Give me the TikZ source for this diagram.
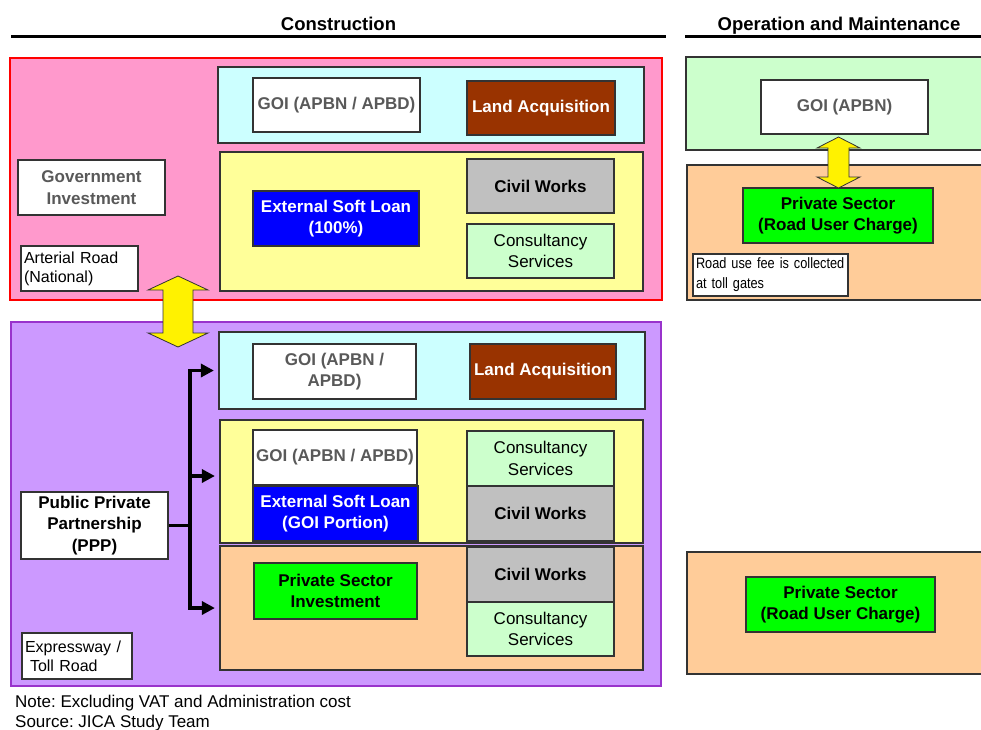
\documentclass[tikz,border=0pt]{standalone}
\usepackage{fontspec}
\setmainfont{Liberation Sans}
\newfontfamily\narrowfont[FakeStretch=0.85]{Liberation Sans}
\usepackage{tikz}
\usetikzlibrary{arrows.meta,positioning}
\frenchspacing
\tikzset{
  fund_box/.style = {draw=my_edge, line width=1.2pt, align=center, inner sep=1pt, text centered,
  font=\bfseries\fontsize{17}{21.5}\selectfont},
  area/.style = {draw=my_edge, line width=1.2pt, inner sep=0pt},
  tag/.style = {draw=my_edge, line width=1.2pt, fill=white, align=left, inner xsep=3pt, inner ysep=1pt,
  font=\fontsize{16}{19}\selectfont},
  sz/.style 2 args = {minimum width=#1, minimum height=#2}
}
\definecolor{my_edge}{RGB}{51, 51, 51}
\definecolor{my_grey}{RGB}{89, 89, 89}
\definecolor{my_pink}{RGB}{255, 153, 204}
\definecolor{my_purple}{RGB}{204, 153, 255}
\definecolor{my_violet}{RGB}{153, 51, 204}
\definecolor{my_cyan}{RGB}{204, 255, 255}
\definecolor{my_yellow}{RGB}{255, 255, 153}
\definecolor{my_orange}{RGB}{255, 204, 153}
\definecolor{my_mint}{RGB}{204, 255, 204}
\definecolor{my_silver}{RGB}{192, 192, 192}
\definecolor{my_brown}{RGB}{153, 51, 0}
\definecolor{my_blue}{RGB}{0, 0, 255}
\definecolor{my_green}{RGB}{0, 255, 0}

\begin{document}
\begin{tikzpicture}[x=1pt,y=-1pt,
        	white_box/.style={fund_box, fill=white},
        	gov_box/.style={fund_box, fill=white, text=my_grey},
        	land_box/.style={fund_box, fill=my_brown, text=white},
        	loan_box/.style={fund_box, fill=my_blue, text=white},
        	civil_box/.style={fund_box, fill=my_silver},
        	cons_box/.style={fund_box, fill=my_mint, font=\fontsize{17}{21.5}\selectfont},
        	private_box/.style={fund_box, fill=my_green},
        	big_arrow/.style={draw=my_edge, line width=0.8pt, fill=yellow},
        	feed/.style={line width=3.5pt},
        	title/.style={anchor=base, font=\bfseries\fontsize{18.5}{22}\selectfont},
        	note/.style={anchor=base west, inner sep=0pt, font=\fontsize{17}{20}\selectfont}]
            \useasboundingbox (0,0) rectangle (981,729);
            % headings
            \node [title] (constr) at (338.5,30.5) {Construction};
            \node [title] (om) at (839,30.5) {Operation and Maintenance};
            \draw [line width=3pt] (11,36) -- (666,36);
            \draw [line width=3pt] (685,36) -- (990,36);

            % arterial road
            \node [area, fill=my_pink, draw=red, sz={652}{242}] (arterial) at (336,179) {};
            \node [area, fill=my_cyan, sz={426}{76}] (cyan1) at (431,105) {};
            \node [gov_box, sz={167}{54}] (goi1) at (336.5,105) {GOI (APBN / APBD)};
            \node [land_box, sz={148}{54}] (land1) at (541,108) {Land Acquisition};
            \node [area, fill=my_yellow, sz={423}{139}] (yel1) at (431.5,221.5) {};
            \node [loan_box, sz={166}{55}] (loan1) at (336,218.5) {External Soft Loan\\(100\%)};
            \node [civil_box, sz={147}{54}] (civil1) at (540.5,186) {Civil Works};
            \node [cons_box, sz={147}{54}] (cons1) at (540.5,251) {Consultancy\\Services};
            \node [gov_box, sz={147}{55}] (govinv) at (91.5,187.5) {Government\\Investment};
            \node [tag, text width=111pt, sz={117}{45}] (artlabel) at (79.5,268.5) {Arterial Road\\(National)};

            % expressway / toll road
            \node [area, fill=my_purple, draw=my_violet, sz={650}{364}] (toll) at (336,504) {};
            \node [area, fill=my_cyan, sz={426}{77}] (cyan2) at (432,370.5) {};
            \node [gov_box, sz={163}{55}] (goi2) at (334.5,371.5) {GOI (APBN /\\APBD)};
            \node [land_box, sz={146}{55}] (land2) at (543,371.5) {Land Acquisition};
            \node [area, fill=my_yellow, sz={423}{123}] (yel2) at (431.5,481.5) {};
            \node [gov_box, sz={164}{55}] (goi3) at (335,457.5) {GOI (APBN / APBD)};
            \node [loan_box, sz={165}{55}] (loan2) at (335.5,513.5) {External Soft Loan\\(GOI Portion)};
            \node [cons_box, sz={147}{55}] (cons2) at (540.5,458.5) {Consultancy\\Services};
            \node [civil_box, sz={147}{55}] (civil2) at (540.5,513.5) {Civil Works};
            \node [area, fill=my_orange, sz={423}{124}] (org2) at (431.5,608) {};
            \node [private_box, sz={163}{56}] (psi) at (335.5,591) {Private Sector\\Investment};
            \node [civil_box, sz={147}{55}] (civil3) at (540.5,574.5) {Civil Works};
            \node [cons_box, sz={147}{54}] (cons3) at (540.5,629) {Consultancy\\Services};
            \node [white_box, sz={147}{67}] (ppp) at (94.5,525.5) {Public Private\\Partnership\\(PPP)};
            \node [tag, text width=104pt, sz={110}{46}] (tolllabel) at (77,656) {Expressway /\\\hspace*{5pt}Toll Road};

            % ppp feeds
            \coordinate (split) at (190,525.5);
            \draw [feed] (ppp.east) -- (split);
            \draw [feed, -{Triangle[length=13pt,width=13pt]}, shorten >=4.5pt] (split) |- (cyan2.west);
            \draw [feed, -{Triangle[length=13pt,width=13pt]}, shorten >=4.5pt] (split) |- ([yshift=5.5pt]yel2.west);
            \draw [feed, -{Triangle[length=13pt,width=13pt]}, shorten >=4.5pt] (split) |- (org2.west);

            % operation and maintenance
            \node [area, fill=my_mint, sz={304}{93}] (omgov) at (838,103.5) {};
            \node [gov_box, sz={167}{54}] (apbn) at (844.5,107) {GOI (APBN)};
            \node [area, fill=my_orange, sz={303}{135}] (omprv1) at (838.5,232.5) {};
            \node [private_box, sz={190}{55}] (ruc1) at (838,215.5) {Private Sector\\(Road User Charge)};
            \node [tag, text width=149pt, sz={155}{42}, font=\narrowfont\fontsize{15}{20}\selectfont] (fee) at (770.5,275) {Road use fee is collected\\at toll gates};
            \node [area, fill=my_orange, sz={303}{122}] (omprv2) at (838.5,613) {};
            \node [private_box, sz={189}{55}] (ruc2) at (840.5,604.5) {Private Sector\\(Road User Charge)};

            % yellow double arrows
            \draw [big_arrow, shift={(178,311.5)}] (0,-35.5) -- (30,-21.5) -- (15,-21.5) -- (15,21.5) -- (30,21.5)
                -- (0,35.5) -- (-30,21.5) -- (-15,21.5) -- (-15,-21.5) -- (-30,-21.5) -- cycle;
            \draw [big_arrow, shift={(838.5,162.5)}] (0,-25.5) -- (21.5,-14.5) -- (10.5,-14.5) -- (10.5,14.5) -- (21.5,14.5)
                -- (0,25.5) -- (-21.5,14.5) -- (-10.5,14.5) -- (-10.5,-14.5) -- (-21.5,-14.5) -- cycle;

            % notes
            \node [note] (notetext) at (15,707) {Note: Excluding VAT and Administration cost};
            \node [note] (source) at (15,727) {Source: JICA Study Team};
        \end{tikzpicture}
\end{document}
